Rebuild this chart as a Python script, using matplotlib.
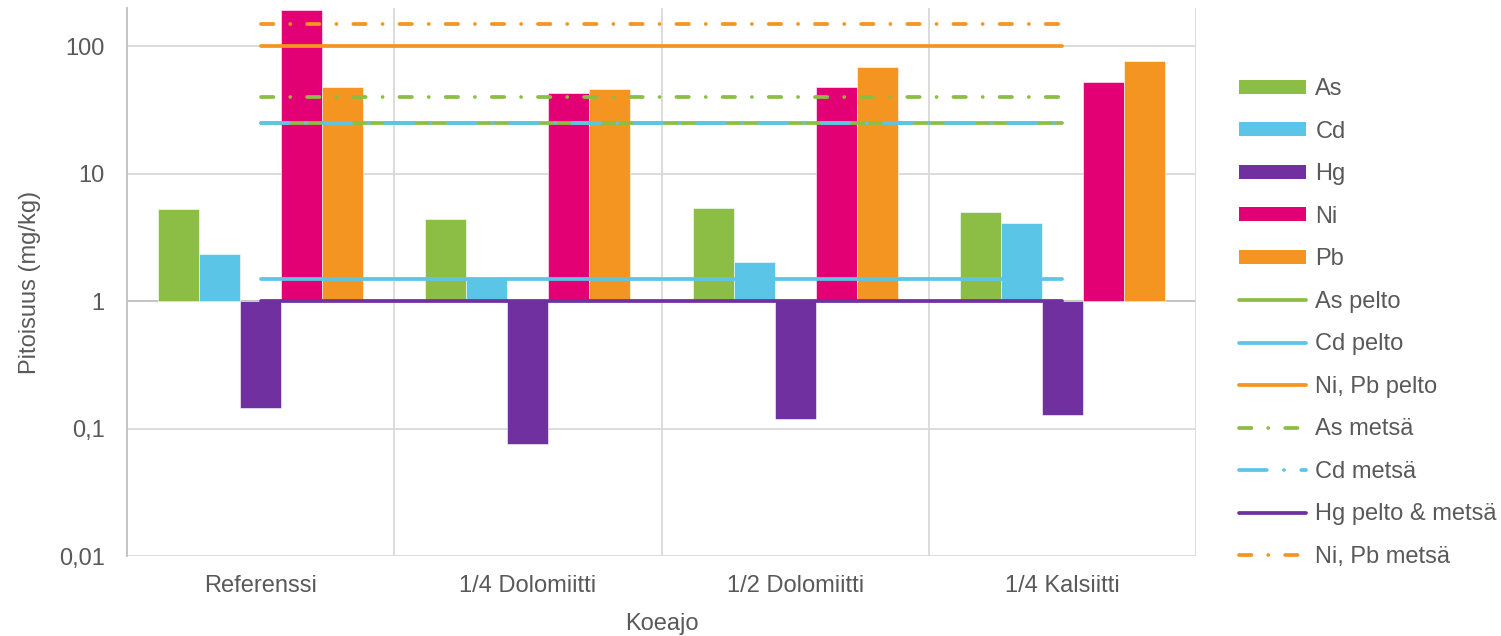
import matplotlib
matplotlib.use("Agg")
import matplotlib.pyplot as plt
from matplotlib.ticker import FixedLocator, FixedFormatter, NullLocator
from matplotlib.patches import Patch
from matplotlib.lines import Line2D

plt.rcParams['font.family'] = ['Liberation Sans', 'DejaVu Sans']

# ---------- Data ----------
categories = ["Referenssi", "1/4 Dolomiitti", "1/2 Dolomiitti", "1/4 Kalsiitti"]

as_vals = [5.3, 4.4, 5.4, 5.0]
cd_vals = [2.35, 1.5, 2.02, 4.1]
hg_vals = [0.145, 0.076, 0.119, 0.128]
ni_vals = [192, 43, 48, 52]
pb_vals = [48, 46, 69, 76]

# limit values (pelto = field, metsä = forest)
as_pelto = [25, 25, 25, 25]
cd_pelto = [1.5, 1.5, 1.5, 1.5]
nipb_pelto = [100, 100, 100, 100]
as_metsa = [40, 40, 40, 40]
cd_metsa = [25, 25, 25, 25]
hg_limit = [1, 1, 1, 1]
nipb_metsa = [150, 150, 150, 150]

ytick_vals = [0.01, 0.1, 1, 10, 100]
ytick_labels = ["0,01", "0,1", "1", "10", "100"]

# ---------- Style ----------
GREEN = "#8CBD44"
CYAN = "#5BC5E7"
PURPLE = "#7030A0"
MAGENTA = "#E20074"
ORANGE = "#F49521"
TEXT = "#595959"
GRID = "#D9D9D9"
AXIS = "#BFBFBF"

FS = 17
LW = 2.7

fig = plt.figure(figsize=(15.01, 6.36), dpi=100)
ax = fig.add_axes([127 / 1501, 1 - 556 / 636, (1196 - 127) / 1501, (556 - 8) / 636])

ax.set_yscale("log")
ax.set_ylim(0.01, 199)
ax.set_xlim(-0.5, len(categories) - 0.5)

x = list(range(len(categories)))
bw = 41 / 267
bar_series = [
    ("As", as_vals, GREEN),
    ("Cd", cd_vals, CYAN),
    ("Hg", hg_vals, PURPLE),
    ("Ni", ni_vals, MAGENTA),
    ("Pb", pb_vals, ORANGE),
]
for i, (name, vals, col) in enumerate(bar_series):
    off = (i - 2) * bw
    xs = [xi + off for xi in x]
    heights = [v - 1 for v in vals]
    ax.bar(xs, heights, width=bw, bottom=1, color=col, edgecolor="white",
           linewidth=0.4, zorder=2)

dash_as = (3.3, 4.5, 0.01, 4.5)
dash_cd = (7.4, 4.6, 0.01, 4.6)

line_series = [
    (as_pelto, GREEN, None),
    (cd_pelto, CYAN, None),
    (nipb_pelto, ORANGE, None),
    (as_metsa, GREEN, dash_as),
    (cd_metsa, CYAN, dash_cd),
    (hg_limit, PURPLE, None),
    (nipb_metsa, ORANGE, dash_as),
]
for vals, col, dashes in line_series:
    ln, = ax.plot(x, vals, color=col, lw=LW, solid_capstyle="round",
                  dash_capstyle="round", zorder=3)
    if dashes is not None:
        ln.set_dashes(dashes)

# grid & axes
ax.yaxis.set_major_locator(FixedLocator(ytick_vals))
ax.yaxis.set_major_formatter(FixedFormatter(ytick_labels))
ax.yaxis.set_minor_locator(NullLocator())
for v in ytick_vals:
    ax.axhline(v, color=AXIS if v == 1 else GRID, lw=1.3, zorder=1)
for b in [0.5, 1.5, 2.5, 3.5]:
    ax.axvline(b, color=GRID, lw=1.3, zorder=1)

ax.set_xticks(x)
ax.set_xticklabels(categories)
ax.tick_params(axis="both", length=0, labelsize=FS, colors=TEXT)
ax.tick_params(axis="y", pad=16)
ax.tick_params(axis="x", pad=14)

for s in ["top", "right", "bottom"]:
    ax.spines[s].set_visible(False)
ax.spines["left"].set_color(AXIS)
ax.spines["left"].set_linewidth(1.3)

ax.set_xlabel("Koeajo", fontsize=FS, color=TEXT, labelpad=11)
ax.set_ylabel("Pitoisuus (mg/kg)", fontsize=FS, color=TEXT, labelpad=13)

# legend
handles = [Patch(facecolor=c, edgecolor="none") for _, _, c in bar_series]
handles += [
    Line2D([], [], color=GREEN, lw=LW, solid_capstyle="round"),
    Line2D([], [], color=CYAN, lw=LW, solid_capstyle="round"),
    Line2D([], [], color=ORANGE, lw=LW, solid_capstyle="round"),
    Line2D([], [], color=GREEN, lw=LW, dashes=dash_as, dash_capstyle="round"),
    Line2D([], [], color=CYAN, lw=LW, dashes=dash_cd, dash_capstyle="round"),
    Line2D([], [], color=PURPLE, lw=LW, solid_capstyle="round"),
    Line2D([], [], color=ORANGE, lw=LW, dashes=dash_as, dash_capstyle="round"),
]
labels = ["As", "Cd", "Hg", "Ni", "Pb", "As pelto", "Cd pelto", "Ni, Pb pelto",
          "As metsä", "Cd metsä", "Hg pelto & metsä", "Ni, Pb metsä"]
leg = fig.legend(handles, labels, loc="upper left",
                 bbox_to_anchor=(1239 / 1501, 1 - 78 / 636),
                 frameon=False, fontsize=FS, labelcolor=TEXT,
                 handlelength=2.85, handleheight=0.55, handletextpad=0.38,
                 labelspacing=0.87, borderpad=0, borderaxespad=0)

fig.savefig("out.png", dpi=100)
